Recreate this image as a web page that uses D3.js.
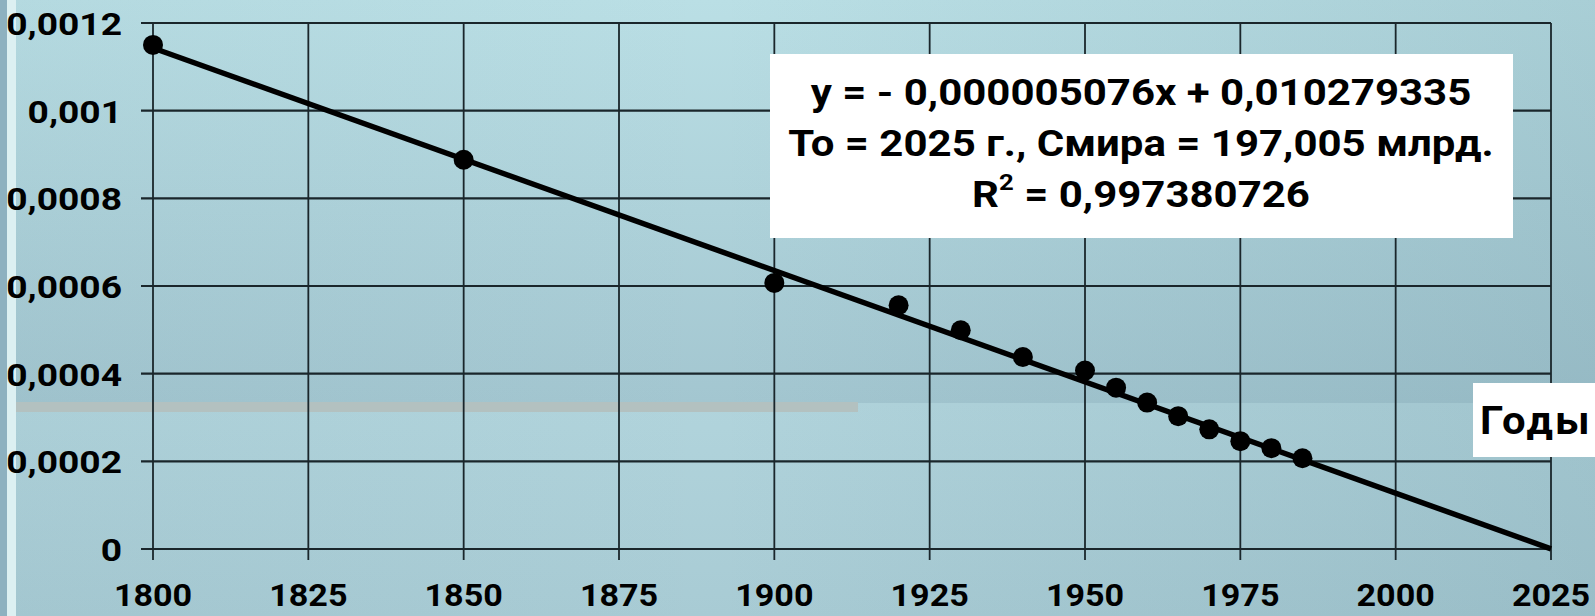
<!DOCTYPE html>
<html>
<head>
<meta charset="utf-8">
<script src="https://d3js.org/d3.v7.min.js"></script>
<style>
  body { margin: 0; }
  text { font-family: Roboto, "Liberation Sans", Arial, sans-serif; font-weight: bold; fill: #000; }
</style>
</head>
<body>
<svg id="chart" width="1595" height="616"></svg>
<script>
// data
var years  = [1800, 1850, 1900, 1920, 1930, 1940, 1950, 1955, 1960, 1965, 1970, 1975, 1980, 1985];
var shares = [0.00115, 0.000888, 0.000607, 0.000556, 0.000499, 0.000438, 0.000407,
              0.000368, 0.000334, 0.000303, 0.000273, 0.000246, 0.00023, 0.000207];
var trendYears  = [1800, 2025];
var trendShares = [0.001143, 0.0000004];
var xTicks = [1800, 1825, 1850, 1875, 1900, 1925, 1950, 1975, 2000, 2025];
var yTicks = [0, 0.0002, 0.0004, 0.0006, 0.0008, 0.001, 0.0012];
var yTickLabels = ["0", "0,0002", "0,0004", "0,0006", "0,0008", "0,001", "0,0012"];
var boxLines = ["y = - 0,000005076x + 0,010279335", "То = 2025 г., Смира = 197,005 млрд."];
var r2Text = "0,997380726";
var axisTitle = "Годы";

var svg = d3.select("#chart");
var W = 1595, H = 616;

// background
var defs = svg.append("defs");
var gTop = defs.append("linearGradient").attr("id", "bgTop").attr("x1", 0).attr("y1", 0).attr("x2", 0).attr("y2", 1);
gTop.append("stop").attr("offset", "0").attr("stop-color", "#badfe5");
gTop.append("stop").attr("offset", "1").attr("stop-color", "#a3c6d0");
var gBot = defs.append("linearGradient").attr("id", "bgBot").attr("x1", 0).attr("y1", 0).attr("x2", 0).attr("y2", 1);
gBot.append("stop").attr("offset", "0").attr("stop-color", "#b1d4dc");
gBot.append("stop").attr("offset", "1").attr("stop-color", "#a8cbd4");
var gSide = defs.append("linearGradient").attr("id", "bgSide").attr("x1", 0).attr("y1", 0).attr("x2", 1).attr("y2", 0);
gSide.append("stop").attr("offset", "0").attr("stop-color", "#46707f").attr("stop-opacity", 0.05);
gSide.append("stop").attr("offset", "0.45").attr("stop-color", "#46707f").attr("stop-opacity", 0);
gSide.append("stop").attr("offset", "1").attr("stop-color", "#46707f").attr("stop-opacity", 0.15);

svg.append("rect").attr("x", 0).attr("y", 0).attr("width", W).attr("height", 403).attr("fill", "url(#bgTop)");
svg.append("rect").attr("x", 0).attr("y", 403).attr("width", W).attr("height", H - 403).attr("fill", "url(#bgBot)");
svg.append("rect").attr("x", 0).attr("y", 0).attr("width", W).attr("height", H).attr("fill", "url(#bgSide)");
svg.append("rect").attr("x", 0).attr("y", 402).attr("width", 858).attr("height", 10).attr("fill", "#b3c1c0");
svg.append("rect").attr("x", 0).attr("y", 0).attr("width", 7).attr("height", H).attr("fill", "#8db1c0");
svg.append("rect").attr("x", 7).attr("y", 0).attr("width", 9).attr("height", H).attr("fill", "#dcf0f2");

// scales
var x = d3.scaleLinear().domain([1800, 2025]).range([153, 1551]);
var y = d3.scaleLinear().domain([0, 0.0012]).range([549, 23]);

// grid
svg.append("g").selectAll("line").data(yTicks).enter().append("line")
  .attr("x1", 141).attr("x2", x(2025))
  .attr("y1", function(d) { return y(d); }).attr("y2", function(d) { return y(d); })
  .attr("stroke", "#1a262b").attr("stroke-width", 2.2);
svg.append("g").selectAll("line").data(xTicks).enter().append("line")
  .attr("x1", function(d) { return x(d); }).attr("x2", function(d) { return x(d); })
  .attr("y1", y(0.0012)).attr("y2", 560)
  .attr("stroke", "#1a262b").attr("stroke-width", 1.8);

// tick labels
svg.append("g").selectAll("text").data(yTicks).enter().append("text")
  .attr("text-anchor", "end")
  .attr("font-size", 31.5)
  .attr("transform", function(d) { return "translate(122," + (y(d) + 12) + ") scale(1.18,1)"; })
  .text(function(d, i) { return yTickLabels[i]; });
svg.append("g").selectAll("text").data(xTicks).enter().append("text")
  .attr("text-anchor", "middle")
  .attr("font-size", 31)
  .attr("transform", function(d) { return "translate(" + x(d) + ",606) scale(1.1,1)"; })
  .text(function(d) { return d; });

// trend line and points
svg.append("line")
  .attr("x1", x(trendYears[0])).attr("y1", y(trendShares[0]))
  .attr("x2", x(trendYears[1])).attr("y2", y(trendShares[1]))
  .attr("stroke", "#000").attr("stroke-width", 5.5);
svg.append("g").selectAll("circle").data(years).enter().append("circle")
  .attr("cx", function(d) { return x(d); })
  .attr("cy", function(d, i) { return y(shares[i]); })
  .attr("r", 10).attr("fill", "#000");

// equation box
svg.append("rect").attr("x", 770).attr("y", 54).attr("width", 743).attr("height", 184).attr("fill", "#fff");
var boxG = svg.append("g");
boxG.selectAll("text.ln").data(boxLines).enter().append("text")
  .attr("class", "ln")
  .attr("text-anchor", "middle")
  .attr("font-size", 37.5)
  .attr("transform", function(d, i) { return "translate(1141," + (105 + i * 51) + ") scale(1.12,1)"; })
  .text(function(d) { return d; });
var r2 = boxG.append("text")
  .attr("text-anchor", "middle")
  .attr("font-size", 37.5)
  .attr("transform", "translate(1141,207) scale(1.12,1)");
r2.append("tspan").text("R");
r2.append("tspan").attr("font-size", 23).attr("dy", -17).text("2");
r2.append("tspan").attr("dy", 17).text(" = " + r2Text);

// axis title
svg.append("rect").attr("x", 1473).attr("y", 383).attr("width", 130).attr("height", 74).attr("fill", "#fff");
svg.append("text")
  .attr("font-size", 38)
  .attr("letter-spacing", 2)
  .attr("transform", "translate(1480,434) scale(1.1,1)")
  .text(axisTitle);
</script>
</body>
</html>
